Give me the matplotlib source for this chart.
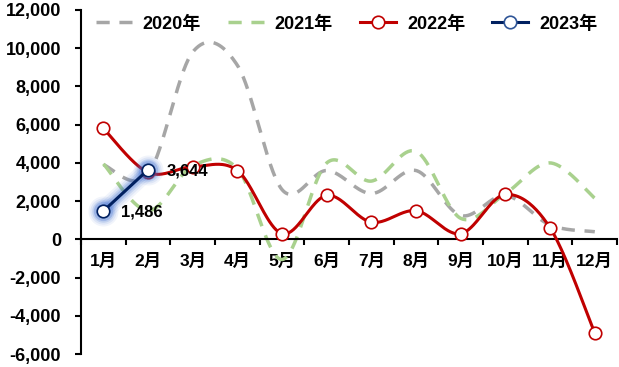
import numpy as np
import matplotlib
matplotlib.use("Agg")
import matplotlib.pyplot as plt
from matplotlib.font_manager import FontProperties
from matplotlib.ticker import FuncFormatter, MultipleLocator

plt.rcParams['font.family'] = ['Liberation Sans', 'Noto Sans CJK SC', 'DejaVu Sans']
plt.rcParams['font.weight'] = 'bold'

months = ['1月', '2月', '3月', '4月', '5月', '6月', '7月', '8月', '9月', '10月', '11月', '12月']
y2020 = [3900, 3400, 9800, 9100, 2600, 3600, 2400, 3600, 1250, 2300, 750, 400]
y2021 = [3950, 1500, 3850, 3700, -1050, 4000, 3050, 4600, 1100, 2400, 4000, 2150]
y2022 = [5800, 3500, 3800, 3600, 300, 2300, 900, 1500, 300, 2350, 600, -4900]
y2023 = [1486, 3644]
labels = ['2020年', '2021年', '2022年', '2023年']


def smooth(xs, ys, n=40):
    xs = np.asarray(xs, float)
    ys = np.asarray(ys, float)
    P = np.column_stack([xs, ys])
    if len(P) < 3:
        return xs, ys
    out = []
    for i in range(len(P) - 1):
        p0 = P[i - 1] if i > 0 else P[i]
        p1, p2 = P[i], P[i + 1]
        p3 = P[i + 2] if i + 2 < len(P) else P[i + 1]
        b1 = p1 + (p2 - p0) / 6
        b2 = p2 - (p3 - p1) / 6
        t = np.linspace(0, 1, n)[:, None]
        seg = ((1 - t) ** 3) * p1 + 3 * ((1 - t) ** 2) * t * b1 + 3 * (1 - t) * t ** 2 * b2 + t ** 3 * p2
        out.append(seg if i == 0 else seg[1:])
    out = np.vstack(out)
    return out[:, 0], out[:, 1]


fig = plt.figure(figsize=(6.19, 3.67), dpi=100)
ax = fig.add_axes([0.131, 0.035, 0.866, 0.938])

x = np.arange(1, 13)
red = '#C00000'
navy = '#002060'
gray = '#A6A6A6'
green = '#A9D18E'

sx, sy = smooth(x, y2020)
ax.plot(sx, sy, color=gray, lw=2.5, dashes=(3.8, 2.8), label=labels[0], zorder=2)
sx, sy = smooth(x, y2021)
ax.plot(sx, sy, color=green, lw=2.5, dashes=(3.8, 2.8), label=labels[1], zorder=2)
sx, sy = smooth(x, y2022)
ax.plot(sx, sy, color=red, lw=2.2, zorder=3)
ax.plot(x, y2022, ls='none', marker='o', ms=9, mfc='white', mec=red, mew=1.2, zorder=4)
ax.plot([], [], color=red, lw=2.2, marker='o', ms=9, mfc='white', mec=red, mew=1.2, label=labels[2])

x23 = x[:len(y2023)]
for lw, a in [(14, 0.07), (11, 0.1), (8, 0.16), (5.5, 0.22)]:
    ax.plot(x23, y2023, color='#3A6BD0', lw=lw, alpha=a, solid_capstyle='round', zorder=5)
    ax.plot(x23, y2023, ls='none', marker='o', ms=9 + lw * 0.9, color='#3A6BD0', alpha=a, mew=0, zorder=5)
ax.plot(x23, y2023, color=navy, lw=2.2, zorder=6)
ax.plot(x23, y2023, ls='none', marker='o', ms=9, mfc='white', mec=navy, mew=1.2, zorder=7)
ax.plot([], [], color=navy, lw=2.2, marker='o', ms=9, mfc='white', mec='#2F5597', mew=1.2, label=labels[3])

for xi, yi in zip(x23, y2023):
    ax.annotate(f'{yi:,}', (xi, yi), xytext=(13, -1), textcoords='offset points',
                ha='left', va='center', fontsize=12, fontweight='bold', zorder=8)

ax.set_xlim(0.5, 12.5)
ax.set_ylim(-6000, 12000)
ax.yaxis.set_major_locator(MultipleLocator(2000))
ax.yaxis.set_major_formatter(FuncFormatter(lambda v, p: f'{int(v):,}'))
ax.tick_params(axis='y', labelsize=13, length=4.5, width=1.5, direction='out', pad=10)
for lab in ax.get_yticklabels():
    lab.set_fontweight('bold')

ax.spines['top'].set_visible(False)
ax.spines['right'].set_visible(False)
ax.spines['left'].set_linewidth(1.5)
ax.spines['bottom'].set_position(('data', 0))
ax.spines['bottom'].set_linewidth(1.5)
ax.set_xticks(np.arange(0.5, 13, 1))
ax.set_xticklabels([])
ax.set_xticks(x, minor=True)
ax.set_xticklabels(months, minor=True)
ax.tick_params(axis='x', which='major', length=4, width=1.5, direction='out')
ax.tick_params(axis='x', which='minor', length=0, labelsize=12.5, pad=10)
for lab in ax.get_xticklabels(minor=True):
    lab.set_fontweight('bold')

prop = FontProperties(family=['Liberation Sans', 'Noto Sans CJK SC'], weight='bold', size=13)
ax.legend(loc='upper center', bbox_to_anchor=(0.495, 1.015), ncol=4, frameon=False, prop=prop,
          handlelength=2.0, columnspacing=1.5, handletextpad=0.6, borderaxespad=0.2)

fig.savefig('out.png', dpi=100)
